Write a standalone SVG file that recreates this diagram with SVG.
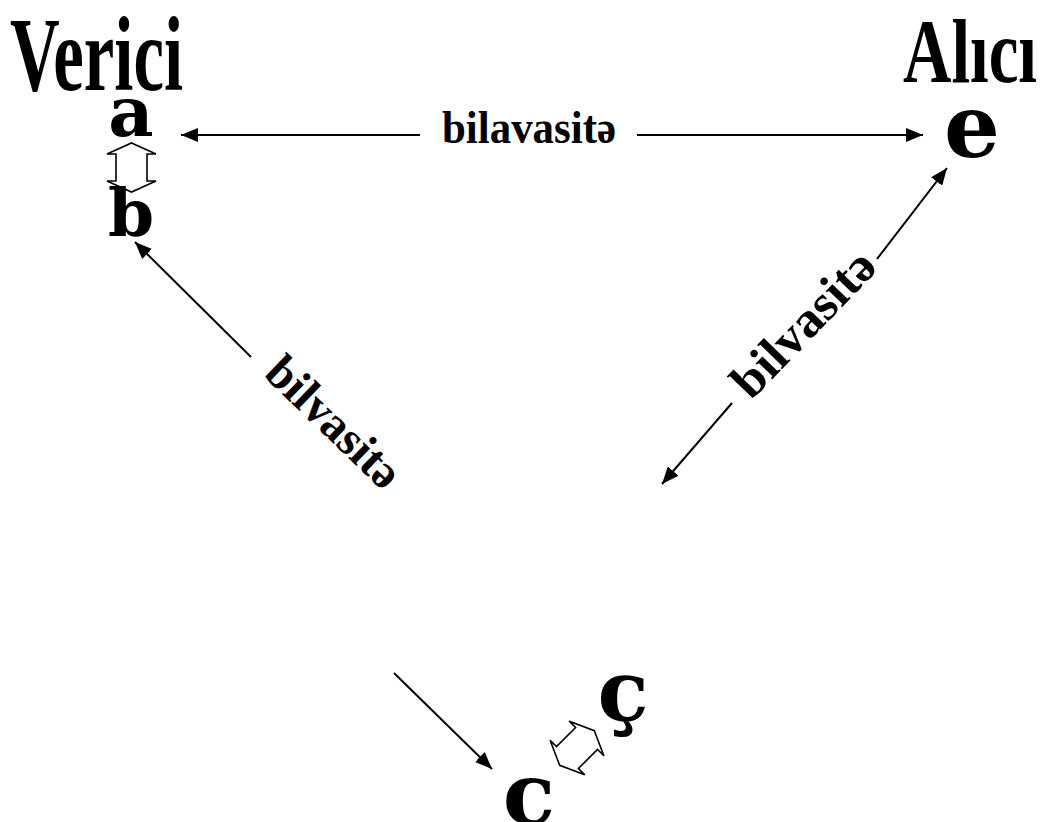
<svg xmlns="http://www.w3.org/2000/svg" width="1049" height="822" viewBox="0 0 1049 822">
<defs>
<style>
.title{font-family:"Liberation Serif","Times New Roman",serif;font-weight:bold;fill:#000}
.lbl{font-family:"Liberation Serif","Times New Roman",serif;font-weight:bold;fill:#000}
.let{font-family:"DejaVu Serif",serif;font-weight:bold;fill:#000}
.con{stroke:#000;stroke-width:2;fill:none;marker-end:url(#ah)}
.dbl{fill:#fff;stroke:#000;stroke-width:1.6;stroke-linejoin:miter}
</style>
<marker id="ah" markerUnits="userSpaceOnUse" viewBox="0 -7 17 14" refX="17" refY="0" markerWidth="17" markerHeight="14" orient="auto">
<path d="M0,-7 L17,0 L0,7 Z" fill="#000"/>
</marker>
<path id="dblarrow" d="M0,-24.5 L24.5,-13.5 L15.5,-13.5 L15.5,13.5 L24.5,13.5 L0,24.5 L-24.5,13.5 L-15.5,13.5 L-15.5,-13.5 L-24.5,-13.5 Z"/>
</defs>
<rect width="1049" height="822" fill="#fff"/>
<g id="verici">
<text class="title" x="10" y="90" font-size="106" textLength="173" lengthAdjust="spacingAndGlyphs">Verici</text>
</g>
<g id="alici">
<text class="title" x="903" y="82" font-size="92" textLength="134" lengthAdjust="spacingAndGlyphs">Alıcı</text>
</g>
<g id="node-a">
<text class="let" x="131" y="136" font-size="70" text-anchor="middle">a</text>
</g>
<g id="ab-link">
<use href="#dblarrow" class="dbl" transform="translate(131.5,167.5)"/>
</g>
<g id="node-b">
<text class="let" x="131" y="236" font-size="66" text-anchor="middle">b</text>
</g>
<g id="node-e">
<text class="let" x="972" y="157" font-size="88" text-anchor="middle">e</text>
</g>
<g id="node-c">
<text class="let" x="529" y="824" font-size="86" text-anchor="middle">c</text>
</g>
<g id="node-cc">
<text class="let" x="623" y="720" font-size="84" text-anchor="middle">ç</text>
</g>
<g id="cc-link">
<use href="#dblarrow" class="dbl" transform="translate(577,748) rotate(45)"/>
</g>
<g id="connectors">
<line class="con" x1="420" y1="135" x2="181" y2="135"/>
<line class="con" x1="637" y1="135" x2="923" y2="135"/>
<line class="con" x1="251" y1="357" x2="135" y2="242"/>
<line class="con" x1="877" y1="259" x2="947" y2="168"/>
<line class="con" x1="732" y1="403" x2="662" y2="484"/>
<line class="con" x1="394" y1="673" x2="492" y2="769"/>
</g>
<g id="labels">
<text class="lbl" x="442" y="143" font-size="46" textLength="174" lengthAdjust="spacingAndGlyphs">bilavasitə</text>
<text class="lbl" transform="translate(334,422) rotate(44)" x="0" y="16" font-size="48" text-anchor="middle" textLength="168" lengthAdjust="spacingAndGlyphs">bilvasitə</text>
<text class="lbl" transform="translate(803,323) rotate(-46)" x="0" y="17" font-size="50" text-anchor="middle" textLength="184" lengthAdjust="spacingAndGlyphs">bilvasitə</text>
</g>
</svg>
